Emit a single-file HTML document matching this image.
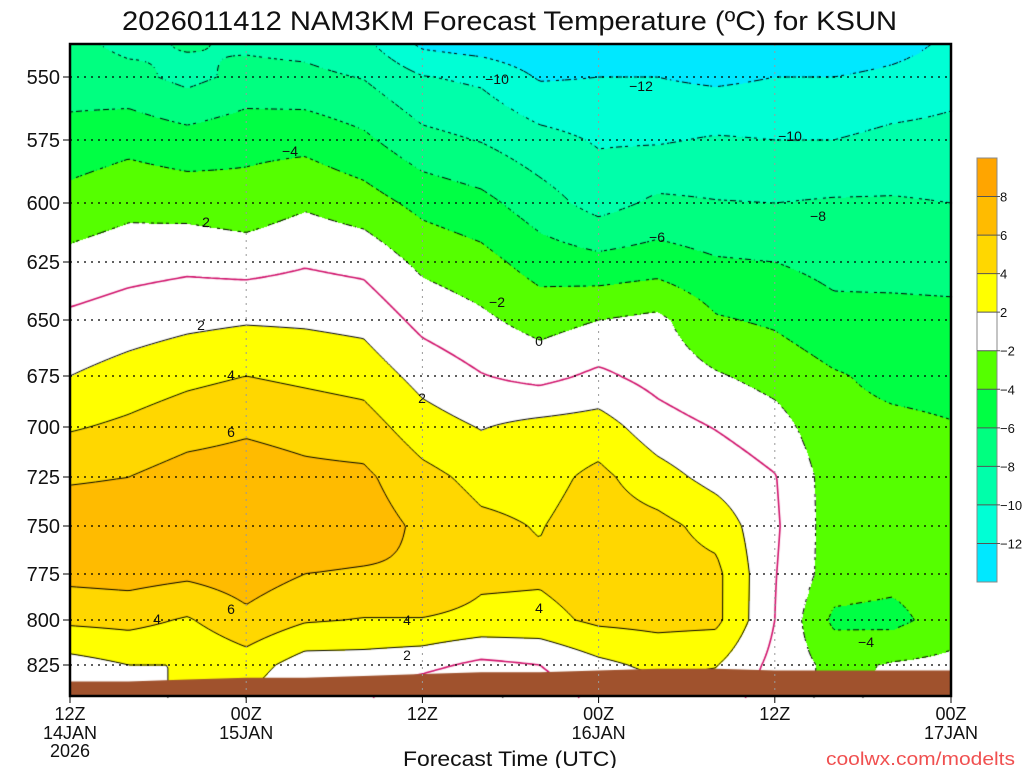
<!DOCTYPE html>
<html><head><meta charset="utf-8">
<style>
html,body{margin:0;padding:0;background:#fff;width:1024px;height:768px;overflow:hidden}
#wrap{position:relative;width:1024px;height:768px}
canvas,svg{position:absolute;left:0;top:0}
text{font-family:"Liberation Sans Narrow","Liberation Sans",sans-serif;fill:#111}
</style></head>
<body>
<div id="wrap">
<canvas id="cv" width="1024" height="768"></canvas>
<svg id="sv" width="1024" height="768"></svg>
</div>
<script>
// ---- data ----
const hours = [0,4,8,12,16,20,24,28,32,36,40,44,48,52,56,60];
const levels = [537,550,575,600,625,650,675,700,725,750,775,800,825,842];
const yTickLevels = [550,575,600,625,650,675,700,725,750,775,800,825];
const xTickHours = [0,12,24,36,48,60];
const xTickTimes = ["12Z","00Z","12Z","00Z","12Z","00Z"];
const xTickDates = ["14JAN","15JAN","","16JAN","","17JAN"];
const contourLevels = [-12,-10,-8,-6,-4,-2,0,2,4,6,8];
const colorbarLabels = [8,6,4,2,-2,-4,-6,-8,-10,-12];
// temperature columns (one per hour entry), values at each pressure level (top->bottom)
const temps = [
[-7.5,-7,-5.2,-3.3,-1.4,0.4,2,3.8,5.8,7,6.6,4.4,1.2,0],
[-8.5,-7.4,-4.6,-2.6,-0.8,1,2.8,4.4,6,7,6.8,4.6,2,1],
[-7.8,-8.6,-5.2,-2.8,-0.5,1.5,3.5,5.2,6.8,7.6,6.4,3.8,2,2.5],
[-8.3,-7.4,-4.6,-3.2,-0.8,1.8,4,5.7,7,7.6,7,5.5,3,2],
[-8.6,-7.5,-4.6,-2.3,-0.2,1.7,3.6,5.3,6.5,7.2,6,4.2,1,0],
[-9.5,-8.1,-5.6,-3.1,-0.6,1.4,3.2,4.9,6.4,7,5.8,3.9,1,0.3],
[-12.4,-9.9,-7.4,-4.6,-2.5,-0.6,1.3,2.9,4.6,5.6,5.8,3.9,0.6,-1.5],
[-13,-10.4,-8.1,-5.4,-3.3,-1.6,0.1,1.9,3.4,4.4,4.4,3.5,-0.5,-2.6],
[-13.5,-12.2,-9.3,-7.1,-4.9,-2.8,-0.6,2.6,3.3,3.9,4.3,3.4,0,-1],
[-14,-12,-10.2,-8.8,-5.4,-2,0.4,2.9,4.5,5,5,4.4,1.5,0.5],
[-14.2,-12,-10.2,-7.6,-5,-1.5,-0.7,0.9,2.8,4.6,4.8,4.6,2.5,1],
[-14.5,-12.4,-9.8,-7.9,-5.8,-3.8,-1.8,-0.1,1.3,3.3,4.5,4.5,2.1,1],
[-14,-12,-10,-8,-6,-4.3,-2.7,-1.2,0.1,0.3,0.1,0,-0.6,-1],
[-14,-12,-10,-7.8,-6.6,-5.4,-3.8,-3.4,-3,-3,-3,-4.4,-2.6,-2.5],
[-13,-11.4,-9.5,-7.8,-6.8,-5.3,-4.5,-3.6,-3.1,-3,-3.4,-4.6,-1.8,-1.5],
[-11.5,-10.7,-9.4,-8,-6.9,-5.4,-4.6,-3.9,-3.4,-3.2,-3.1,-3,-1.5,-1.5]
];
const groundPressure = [834,834,833,832,832,831,830,829,829,828,827,827,828,828,828,828];

// ---- scales ----
const X0=70, X1=951, Y0=44, Y1=696;
const tickP=[537,550,575,600,625,650,675,700,725,750,775,800,825,842];
const tickY=[44,77,140,203,262,320,376,427,477,526,574,620,665,696];
function xOf(h){return X0+(X1-X0)*h/60;}
function yOf(p){
  for(let i=0;i<tickP.length-1;i++){
    if(p<=tickP[i+1]||i===tickP.length-2){
      const f=(p-tickP[i])/(tickP[i+1]-tickP[i]);
      return tickY[i]+f*(tickY[i+1]-tickY[i]);
    }
  }
}
const colors=["#00E8FF","#00FFD5","#00FFAA","#00FF80","#00FF44","#55FF00","#FFFFFF","#FFFF00","#FFD700","#FFBB00","#FFA500"];
const bounds=[-12,-10,-8,-6,-4,-2,2,4,6,8];
function bandOf(v){let i=0;while(i<bounds.length&&v>=bounds[i])i++;return i;}
function hex(c){return [parseInt(c.substr(1,2),16),parseInt(c.substr(3,2),16),parseInt(c.substr(5,2),16)];}
const rgb=colors.map(hex);

const colX=hours.map(xOf), rowY=levels.map(yOf);
function sample(px,py){
  let i=0;while(i<colX.length-2&&px>colX[i+1])i++;
  let j=0;while(j<rowY.length-2&&py>rowY[j+1])j++;
  let fx=(px-colX[i])/(colX[i+1]-colX[i]); fx=Math.max(0,Math.min(1,fx));
  let fy=(py-rowY[j])/(rowY[j+1]-rowY[j]); fy=Math.max(0,Math.min(1,fy));
  const a=temps[i][j],b=temps[i+1][j],c=temps[i][j+1],d=temps[i+1][j+1];
  return (a*(1-fx)+b*fx)*(1-fy)+(c*(1-fx)+d*fx)*fy;
}
const cv=document.getElementById('cv'),ctx=cv.getContext('2d');
const W=X1-X0,H=Y1-Y0;
const field=new Float32Array((W+1)*(H+1));
for(let y=0;y<=H;y++)for(let x=0;x<=W;x++)field[y*(W+1)+x]=sample(X0+x,Y0+y);
const img=ctx.createImageData(W,H);
for(let y=0;y<H;y++)for(let x=0;x<W;x++){
  const c=rgb[bandOf(field[y*(W+1)+x])];const k=(y*W+x)*4;
  img.data[k]=c[0];img.data[k+1]=c[1];img.data[k+2]=c[2];img.data[k+3]=255;
}
ctx.putImageData(img,X0,Y0);
// contours via marching squares on a 3px grid
const S=3;
function val(x,y){return field[Math.min(H,y)*(W+1)+Math.min(W,x)];}
contourLevels.forEach(lv=>{
  ctx.strokeStyle = lv===0?"#D0106A":"#000";
  ctx.lineWidth = lv===0?1.6:1;
  ctx.beginPath();
  for(let y=0;y<H;y+=S)for(let x=0;x<W;x+=S){
    const p=[[x,y],[x+S,y],[x+S,y+S],[x,y+S]];
    const v=p.map(q=>val(q[0],q[1]));
    const pts=[];
    for(let e=0;e<4;e++){
      const a=v[e],b=v[(e+1)%4];
      if((a<lv)!==(b<lv)){
        const f=(lv-a)/(b-a);const A=p[e],B=p[(e+1)%4];
        pts.push([A[0]+f*(B[0]-A[0]),A[1]+f*(B[1]-A[1])]);
      }
    }
    if(lv<0&&Math.floor((x+y)/4)%2===1)continue;
    for(let k=0;k+1<pts.length;k+=2){
      ctx.moveTo(X0+pts[k][0],Y0+pts[k][1]);ctx.lineTo(X0+pts[k+1][0],Y0+pts[k+1][1]);
    }
  }
  ctx.stroke();
});
// ground
ctx.fillStyle="#A0522D";
ctx.beginPath();ctx.moveTo(X0,Y1);
hours.forEach((h,i)=>ctx.lineTo(xOf(h),yOf(groundPressure[i])));
ctx.lineTo(X1,Y1);ctx.closePath();ctx.fill();

// ---- SVG overlay ----
const NS="http://www.w3.org/2000/svg",sv=document.getElementById('sv');
function el(tag,attrs,txt){const e=document.createElementNS(NS,tag);for(const k in attrs)e.setAttribute(k,attrs[k]);if(txt!==undefined)e.textContent=txt;sv.appendChild(e);return e;}
yTickLevels.forEach(p=>{
  const y=yOf(p);
  const g=el('line',{x1:X0,x2:X1,y1:y,y2:y,stroke:"#000","stroke-width":1.2,"stroke-dasharray":"2 5"});
  
  
  const t=el('line',{x1:X0-7,x2:X0,y1:y,y2:y,stroke:"#000","stroke-width":1});
  
  
  const l=el('text',{x:60,y:y+7,"text-anchor":"end","font-size":20},String(p));
  
  
});
xTickHours.forEach((h,i)=>{
  const x=xOf(h);
  if(i>0&&i<xTickHours.length-1){
    const g=el('line',{x1:x,x2:x,y1:Y0,y2:Y1,stroke:"#999","stroke-width":1,"stroke-dasharray":"2 5"});
    
    
  }
  const t=el('line',{x1:x,x2:x,y1:Y1,y2:Y1+7,stroke:"#000","stroke-width":1});
  
  
  const a=el('text',{x:x,y:720,"text-anchor":"middle","font-size":18},xTickTimes[i]);
  
  
  if(xTickDates[i]){
    const b=el('text',{x:x,y:739,"text-anchor":"middle","font-size":18},xTickDates[i]);
    
    
  }
});
const yr=el('text',{x:X0,y:757,"text-anchor":"middle","font-size":18},"2026");


const fr=el('rect',{x:X0,y:Y0,width:X1-X0,height:Y1-Y0,fill:"none",stroke:"#000","stroke-width":2.5});


// colorbar
const CB={x:977,w:20,y0:158,y1:582};
const nb=colors.length, bh=(CB.y1-CB.y0)/nb;
for(let i=0;i<nb;i++){
  const r=el('rect',{x:CB.x,y:CB.y0+i*bh,width:CB.w,height:bh+0.5,fill:colors[nb-1-i]});
  
  
}
const cbf=el('rect',{x:CB.x,y:CB.y0,width:CB.w,height:CB.y1-CB.y0,fill:"none",stroke:"#888","stroke-width":1});


colorbarLabels.forEach((v,i)=>{
  const y=CB.y0+(i+1)*bh;
  const t=el('line',{x1:CB.x,x2:CB.x+CB.w+3,y1:y,y2:y,stroke:"#555","stroke-width":1});
  
  
  const l=el('text',{x:1000,y:y+5,"font-size":13},(v<0?"\u2212":"")+Math.abs(v));
  
  
});
// contour labels
const cl=[["\u221210",497,84],["\u221212",641,91],["\u22124",290,156],["\u221210",790,141],["\u22128",818,221],["2",206,227],["\u22126",657,242],["\u22122",497,307],["2",201,330],["0",539,346],["4",231,380],["2",422,403],["6",231,437],["4",539,613],["6",231,614],["4",157,624],["4",407,625],["2",407,660],["\u22124",866,647]];
cl.forEach(c=>{
  const t=el('text',{x:c[1],y:c[2],"text-anchor":"middle","font-size":14},c[0]);
  
  
});
const ti=el('text',{x:122,y:30,"font-size":27,textLength:775,lengthAdjust:"spacingAndGlyphs"},"2026011412 NAM3KM Forecast Temperature (\u00baC) for KSUN");


const xt=el('text',{x:403,y:766,"font-size":21,textLength:214,lengthAdjust:"spacingAndGlyphs"},"Forecast Time (UTC)");


const cr=el('text',{x:826,y:765,"font-size":18,textLength:189,lengthAdjust:"spacingAndGlyphs",style:"fill:#F05050"},"coolwx.com/modelts");


</script>
</body></html>
